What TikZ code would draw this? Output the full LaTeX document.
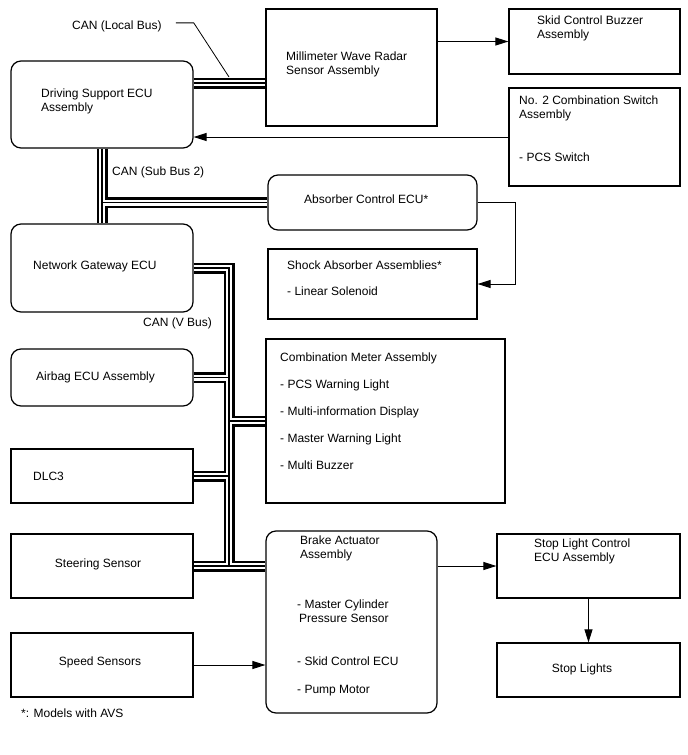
\documentclass[tikz,border=0pt]{standalone}
\usepackage{fontspec}
\setmainfont{Liberation Sans}
\usetikzlibrary{arrows.meta,backgrounds}

\tikzset{
  sqbox/.style={draw, line width=1.2pt, inner sep=0pt},
  rdbox/.style={sqbox, rounded corners=10pt},
  lbl/.style={anchor=base west, inner sep=0pt, align=left, font=\fontsize{12}{14}\selectfont},
  lblm/.style={lbl, anchor=north west},
  lblc/.style={lbl, anchor=base, align=center},
  sig/.style={line width=1pt, -{Triangle[length=13pt,width=8pt]}},
}

\begin{document}
\begin{tikzpicture}[x=1pt,y=-1pt]
\useasboundingbox (0,0) rectangle (688,755);

% boxes
\node[rdbox, minimum width=182, minimum height=87] (dsecu) at (102,104.5) {};
\node[sqbox, minimum width=171, minimum height=117] (mwr) at (351.5,67.5) {};
\node[sqbox, minimum width=171, minimum height=65] (buzzer) at (594.5,41.5) {};
\node[sqbox, minimum width=171, minimum height=98] (swtch) at (594.5,137) {};
\node[rdbox, minimum width=209, minimum height=55] (absorber) at (372.5,202.5) {};
\node[sqbox, minimum width=209, minimum height=70] (shock) at (372.5,284) {};
\node[rdbox, minimum width=182, minimum height=88] (gateway) at (102,268) {};
\node[rdbox, minimum width=182, minimum height=57] (airbag) at (102,377.5) {};
\node[sqbox, minimum width=239, minimum height=164] (meter) at (385.5,421) {};
\node[sqbox, minimum width=182, minimum height=54] (dlc) at (102,476) {};
\node[rdbox, minimum width=171, minimum height=182] (brake) at (351.5,622) {};
\node[sqbox, minimum width=182, minimum height=64] (steering) at (102,566) {};
\node[sqbox, minimum width=182, minimum height=64] (speed) at (102,665) {};
\node[sqbox, minimum width=183, minimum height=64] (stopctl) at (588.5,566) {};
\node[sqbox, minimum width=183, minimum height=54] (stoplights) at (588.5,670) {};

% texts
\node[lblm] (dsecutxt) at (41,88.3) {Driving Support ECU\\Assembly};
\node[lblm] (mwrtxt) at (286,51.3) {Millimeter Wave Radar\\Sensor Assembly};
\node[lblm] (buzzertxt) at (537,15.3) {Skid Control Buzzer\\Assembly};
\node[lblm] (swtchtxt) at (519,95.3) {No. 2 Combination Switch\\Assembly\\[29pt]- PCS Switch};
\node[lbl] (absorbertxt) at (304,203) {Absorber Control ECU*};
\node[lblm] (shocktxt) at (287,260.3) {Shock Absorber Assemblies*\\[12pt]- Linear Solenoid};
\node[lbl] (gatewaytxt) at (33,269) {Network Gateway ECU};
\node[lbl] (airbagtxt) at (36,380) {Airbag ECU Assembly};
\node[lblm] (metertxt) at (280,352.3) {Combination Meter Assembly\\[13pt]- PCS Warning Light\\[13pt]- Multi-information Display\\[13pt]- Master Warning Light\\[13pt]- Multi Buzzer};
\node[lbl] (dlctxt) at (33,480) {DLC3};
\node[lblm] (braketxt) at (300,535.3) {Brake Actuator\\Assembly};
\node[lblm] (brakelist) at (297,599.3) {- Master Cylinder\\\hspace*{2pt}Pressure Sensor\\[29pt]- Skid Control ECU\\[14pt]- Pump Motor};
\node[lblc] (steeringtxt) at (98,567) {Steering Sensor};
\node[lblc] (speedtxt) at (100,665) {Speed Sensors};
\node[lblm] (stopctltxt) at (534,538.3) {Stop Light Control\\ECU Assembly};
\node[lblc] (stoplightstxt) at (582,672) {Stop Lights};
\node[lbl] (note) at (21,717) {*: Models with AVS};

% bus names
\node[lbl] (canlocal) at (72,29) {CAN (Local Bus)};
\node[lbl] (cansub) at (112,175) {CAN (Sub Bus 2)};
\node[lbl] (canv) at (143,326) {CAN (V Bus)};
\coordinate (lbtap) at (229,77);
\draw[line width=0.8pt] (canlocal.east) ++(14,-3) -- ++(18,0) -- (lbtap);

% signal lines
\draw[sig] (mwr.east |- buzzer.west) -- (buzzer.west);
\draw[sig] (swtch.west) -- (swtch.west -| dsecu.east);
\draw[sig] (absorber.east) -- ++(38,0) |- (shock.east);
\draw[sig] (speed.east) -- (speed.east -| brake.west);
\draw[sig] (brake.east |- stopctl.west) -- (stopctl.west);
\draw[sig] (stopctl.south) -- (stoplights.north);

% CAN lines
\coordinate (vtop) at (229,268);
\coordinate (vbot) at (229,566);
\begin{scope}[on background layer]
  \foreach \w/\c in {11/black,6/white,1.2/black}
    \draw[line width=\w pt,\c]
      (dsecu.east |- 0,83) -- (mwr.west |- 0,83)
      (dsecu.south) -- (gateway.north)
      (dsecu.south |- absorber.west) -- (absorber.west)
      (gateway.east) -- (vtop) -- (vbot)
      (steering.east) -- (steering.east -| brake.west)
      (airbag.east) -- (airbag.east -| vtop)
      (meter.west) -- (meter.west -| vtop)
      (dlc.east) -- (dlc.east -| vtop);
\end{scope}
\end{tikzpicture}
\end{document}
